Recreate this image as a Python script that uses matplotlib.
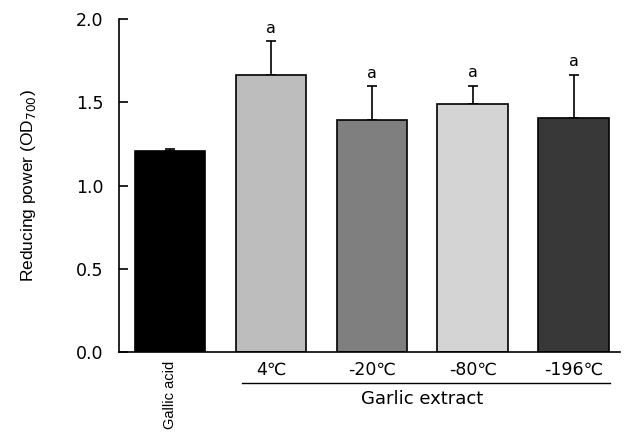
import numpy as np
import matplotlib
matplotlib.use("Agg")
import matplotlib.pyplot as plt

plt.rcParams['font.family'] = ['DejaVu Sans']

labels = ["Gallic acid", "4\u2103", "-20\u2103", "-80\u2103", "-196\u2103"]
values = [1.21, 1.665, 1.395, 1.49, 1.405]
errors = [0.01, 0.20, 0.20, 0.11, 0.26]
letters = ["", "a", "a", "a", "a"]
colors = ["#000000", "#bdbdbd", "#7f7f7f", "#d4d4d4", "#383838"]

fig = plt.figure(figsize=(6.26, 4.32), dpi=100)
ax = fig.add_axes([0.190, 0.185, 0.800, 0.771])

x = np.arange(len(values))
ax.bar(x, values, width=0.70, color=colors, edgecolor="black", linewidth=1.2, zorder=2)
ax.errorbar(x, values, yerr=[np.zeros(len(errors)), errors], fmt="none",
            ecolor="black", elinewidth=1.2, capsize=3.6, capthick=1.2, zorder=1)
for xi, v, e, t in zip(x, values, errors, letters):
    ax.text(xi, v + e + 0.035, t, ha="center", va="bottom", fontsize=11.5)

ax.set_xlim(-0.505, 4.455)
ax.set_ylim(0, 2.0)
ax.set_yticks([0.0, 0.5, 1.0, 1.5, 2.0])
ax.set_yticklabels(["0.0", "0.5", "1.0", "1.5", "2.0"], fontsize=12.5)
ax.tick_params(axis="y", direction="in", length=6.5, width=1.2, pad=11)
ax.tick_params(axis="x", length=0)
ax.set_xticks([])
for s in ["top", "right"]:
    ax.spines[s].set_visible(False)
for s in ["left", "bottom"]:
    ax.spines[s].set_linewidth(1.2)

ax.set_ylabel("Reducing power (OD$_{700}$)", fontsize=12.5, family="Liberation Sans")
ax.yaxis.set_label_coords(-0.162, 0.5)

# category labels under the axis
ax.text(0, -0.05, labels[0], rotation=90, ha="center", va="top", fontsize=10.5,
        family="Liberation Sans", clip_on=False)
for xi, lab in zip(x[1:], labels[1:]):
    ax.text(xi, -0.05, lab, ha="center", va="top", fontsize=12.5, clip_on=False)

ax.plot([0.71, 4.36], [-0.186, -0.186], color="black", linewidth=1.0, clip_on=False)
ax.text(2.5, -0.225, "Garlic extract", ha="center", va="top", fontsize=13, clip_on=False)

fig.savefig("out.png", dpi=100)
